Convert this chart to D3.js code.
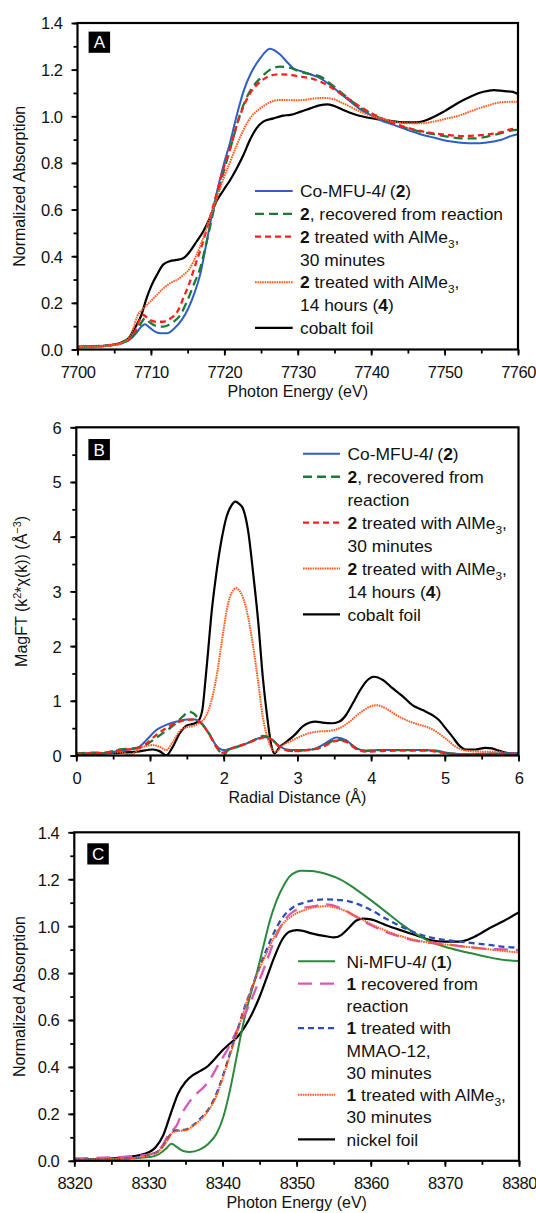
<!DOCTYPE html>
<html>
<head>
<meta charset="utf-8">
<script src="https://cdn.jsdelivr.net/npm/d3@7"></script>
<style>
html, body { margin: 0; padding: 0; background: #fff; }
svg { display: block; font-family: "Liberation Sans", Arial, Helvetica, sans-serif; }
</style>
</head>
<body>
<svg id="fig" width="536" height="1213"></svg>
<script>
// ---------- Panel A: Co K-edge XANES ----------
const aXTicks = [7700, 7710, 7720, 7730, 7740, 7750, 7760];
const aYTicks = [0, 0.2, 0.4, 0.6, 0.8, 1.0, 1.2, 1.4];
const aLabels = [
  "Co-MFU-4<i>l</i> (<b>2</b>)",
  "<b>2</b>, recovered from reaction",
  "<b>2</b> treated with AlMe<sub>3</sub>,|30 minutes",
  "<b>2</b> treated with AlMe<sub>3</sub>,|14 hours (<b>4</b>)",
  "cobalt foil"
];
const aCoMFU = [[7700,0.011],[7702,0.013],[7704,0.017],[7705,0.02],[7706,0.027],[7707,0.04],[7708,0.07],[7708.6,0.095],[7709.2,0.108],[7709.8,0.095],[7710.5,0.078],[7711.3,0.07],[7712.2,0.07],[7713.1,0.088],[7714.2,0.127],[7715.1,0.177],[7716.0,0.248],[7716.7,0.32],[7717.6,0.462],[7718.3,0.577],[7719.0,0.677],[7719.9,0.791],[7720.8,0.89],[7721.7,1.005],[7722.6,1.106],[7723.5,1.177],[7724.9,1.249],[7726.2,1.29],[7727.6,1.265],[7728.5,1.234],[7729.4,1.206],[7730.4,1.194],[7731.7,1.18],[7733.1,1.163],[7734.4,1.134],[7735.8,1.098],[7737.2,1.062],[7738.5,1.031],[7739.9,1.006],[7741.3,0.983],[7743.1,0.963],[7744.9,0.942],[7746.7,0.923],[7748.5,0.909],[7750.4,0.894],[7752.2,0.887],[7754,0.884],[7755.8,0.888],[7757.6,0.898],[7759,0.915],[7760,0.923]];
const aRecovered = [[7700,0.012],[7702,0.014],[7704,0.018],[7705,0.021],[7706,0.028],[7707,0.042],[7708,0.075],[7708.6,0.11],[7709.2,0.134],[7709.9,0.115],[7710.8,0.1],[7711.7,0.098],[7712.4,0.105],[7713.1,0.119],[7714,0.148],[7714.9,0.205],[7715.8,0.276],[7716.7,0.348],[7717.6,0.462],[7718.5,0.59],[7719.4,0.705],[7720.3,0.805],[7721.2,0.905],[7722.1,1.005],[7723,1.077],[7723.9,1.127],[7724.9,1.163],[7726.2,1.199],[7727.6,1.213],[7729,1.207],[7730.4,1.19],[7733.1,1.17],[7734.4,1.141],[7735.8,1.105],[7737.2,1.069],[7738.5,1.037],[7739.9,1.013],[7741.3,0.991],[7743.1,0.97],[7744.9,0.948],[7746.7,0.934],[7748.5,0.923],[7750.4,0.913],[7752.2,0.905],[7754,0.905],[7755.8,0.913],[7757.6,0.927],[7759,0.939],[7760,0.942]];
const aAlMe30 = [[7700,0.01],[7702,0.012],[7704,0.016],[7705,0.02],[7706,0.027],[7707,0.042],[7708,0.09],[7708.5,0.13],[7709,0.148],[7709.5,0.135],[7710,0.125],[7710.7,0.119],[7711.6,0.119],[7712.7,0.134],[7713.6,0.162],[7714.4,0.219],[7715.3,0.29],[7716.2,0.377],[7717.1,0.462],[7718,0.562],[7718.9,0.662],[7719.9,0.777],[7720.8,0.863],[7721.7,0.963],[7722.6,1.041],[7723.5,1.098],[7724.9,1.148],[7726.2,1.173],[7727.6,1.18],[7729,1.177],[7730.4,1.17],[7731.7,1.163],[7733.1,1.148],[7734.4,1.127],[7735.8,1.098],[7737.2,1.069],[7738.5,1.041],[7739.9,1.016],[7741.3,0.994],[7743.1,0.97],[7744.9,0.951],[7746.7,0.937],[7748.5,0.927],[7750.4,0.92],[7752.2,0.915],[7754,0.917],[7755.8,0.922],[7757.6,0.931],[7759,0.944],[7760,0.95]];
const aAlMe14h = [[7700,0.01],[7702,0.012],[7704,0.016],[7705,0.02],[7706,0.028],[7707,0.05],[7707.6,0.09],[7708.1,0.14],[7709,0.176],[7709.9,0.205],[7710.8,0.234],[7711.7,0.262],[7712.6,0.284],[7713.5,0.298],[7714.4,0.319],[7715.3,0.348],[7716.2,0.405],[7717.1,0.477],[7718,0.562],[7718.9,0.641],[7719.9,0.734],[7720.8,0.805],[7721.7,0.877],[7722.6,0.941],[7723.5,0.991],[7724.9,1.034],[7726.2,1.06],[7727.6,1.07],[7729,1.069],[7730.4,1.069],[7732.2,1.076],[7733.5,1.079],[7734.9,1.073],[7736.2,1.055],[7737.6,1.034],[7739,1.013],[7740.4,0.998],[7741.7,0.988],[7743.1,0.977],[7744.9,0.97],[7746.7,0.97],[7748.5,0.977],[7750.4,0.991],[7752.2,1.005],[7754,1.027],[7755.8,1.045],[7757.6,1.06],[7759,1.062],[7760,1.062]];
const aCoFoil = [[7700,0.01],[7702,0.013],[7704,0.017],[7705,0.021],[7706,0.03],[7707,0.05],[7707.6,0.08],[7708.3,0.12],[7708.7,0.148],[7709.4,0.219],[7710.1,0.276],[7710.8,0.319],[7711.7,0.365],[7712.6,0.379],[7713.5,0.384],[7714.4,0.391],[7715.3,0.42],[7716.2,0.462],[7717.1,0.505],[7718,0.562],[7718.9,0.634],[7719.9,0.684],[7720.8,0.727],[7721.7,0.777],[7722.6,0.834],[7723.5,0.899],[7724.4,0.949],[7725.3,0.977],[7726.7,0.991],[7728,1.003],[7729,1.006],[7730.4,1.02],[7731.7,1.034],[7733.1,1.048],[7734,1.051],[7734.9,1.045],[7736.2,1.027],[7737.6,1.01],[7739,0.998],[7740.8,0.988],[7742.6,0.98],[7744.4,0.974],[7746.2,0.974],[7748.1,0.991],[7749.9,1.02],[7751.7,1.055],[7753.5,1.084],[7755.3,1.105],[7756.7,1.112],[7758.1,1.108],[7759.3,1.105],[7760,1.095]];

// ---------- Panel B: Fourier transform magnitude ----------
const bXTicks = [0, 1, 2, 3, 4, 5, 6];
const bYTicks = [0, 1, 2, 3, 4, 5, 6];
const bLabels = [
  "Co-MFU-4<i>l</i> (<b>2</b>)",
  "<b>2</b>, recovered from|reaction",
  "<b>2</b> treated with AlMe<sub>3</sub>,|30 minutes",
  "<b>2</b> treated with AlMe<sub>3</sub>,|14 hours (<b>4</b>)",
  "cobalt foil"
];
const bCoMFU = [[0,0.03],[0.2,0.04],[0.37,0.04],[0.59,0.09],[0.82,0.13],[0.95,0.28],[1.09,0.47],[1.22,0.56],[1.36,0.62],[1.5,0.66],[1.61,0.66],[1.7,0.59],[1.81,0.38],[1.9,0.18],[2.0,0.1],[2.08,0.12],[2.17,0.16],[2.31,0.22],[2.44,0.3],[2.54,0.34],[2.65,0.3],[2.74,0.19],[2.85,0.11],[2.98,0.1],[3.12,0.1],[3.25,0.13],[3.39,0.23],[3.53,0.33],[3.66,0.28],[3.8,0.13],[3.93,0.09],[4.11,0.1],[4.43,0.1],[4.7,0.1],[4.88,0.09],[5.06,0.04],[5.33,0.02],[5.6,0.03],[5.87,0.04],[6,0.04]];
const bRecovered = [[0,0.04],[0.2,0.05],[0.37,0.05],[0.59,0.11],[0.82,0.14],[0.95,0.2],[1.09,0.33],[1.22,0.45],[1.36,0.6],[1.45,0.72],[1.53,0.8],[1.6,0.76],[1.68,0.62],[1.81,0.38],[1.9,0.16],[2.0,0.01],[2.06,0.1],[2.17,0.15],[2.31,0.22],[2.44,0.3],[2.54,0.36],[2.65,0.3],[2.74,0.18],[2.85,0.1],[2.98,0.08],[3.12,0.1],[3.25,0.12],[3.39,0.2],[3.53,0.29],[3.66,0.26],[3.8,0.13],[3.93,0.08],[4.11,0.1],[4.43,0.1],[4.7,0.1],[4.88,0.08],[5.06,0.04],[5.33,0.02],[5.6,0.03],[5.87,0.03],[6,0.04]];
const bAlMe30 = [[0,0.03],[0.2,0.04],[0.37,0.05],[0.59,0.1],[0.82,0.13],[0.95,0.22],[1.09,0.38],[1.22,0.5],[1.36,0.6],[1.5,0.65],[1.6,0.66],[1.7,0.58],[1.81,0.37],[1.9,0.16],[1.99,0.05],[2.06,0.1],[2.17,0.16],[2.31,0.22],[2.44,0.29],[2.56,0.33],[2.65,0.29],[2.74,0.18],[2.85,0.1],[2.98,0.08],[3.12,0.1],[3.25,0.12],[3.39,0.19],[3.53,0.27],[3.66,0.25],[3.8,0.12],[3.93,0.07],[4.11,0.08],[4.43,0.09],[4.7,0.09],[4.88,0.07],[5.06,0.03],[5.33,0.02],[5.6,0.03],[5.87,0.03],[6,0.03]];
const bAlMe14h = [[0,0.03],[0.37,0.04],[0.59,0.06],[0.73,0.02],[0.91,0.16],[1.04,0.19],[1.13,0.16],[1.22,0.1],[1.31,0.25],[1.4,0.44],[1.5,0.52],[1.59,0.54],[1.67,0.6],[1.74,0.68],[1.8,0.85],[1.86,1.15],[1.91,1.5],[1.96,1.95],[2.01,2.4],[2.06,2.78],[2.11,2.98],[2.17,3.06],[2.22,3.0],[2.27,2.86],[2.33,2.54],[2.4,1.99],[2.47,1.32],[2.53,0.71],[2.59,0.34],[2.65,0.13],[2.71,0.07],[2.8,0.19],[2.89,0.25],[3.03,0.34],[3.16,0.41],[3.3,0.44],[3.43,0.45],[3.57,0.5],[3.71,0.62],[3.84,0.77],[3.98,0.89],[4.07,0.92],[4.2,0.86],[4.34,0.74],[4.47,0.65],[4.61,0.58],[4.74,0.53],[4.88,0.44],[5.01,0.31],[5.15,0.16],[5.28,0.09],[5.46,0.07],[5.69,0.07],[5.87,0.04],[6,0.03]];
const bCoFoil = [[0,0.03],[0.37,0.04],[0.82,0.07],[1.04,0.11],[1.13,0.08],[1.22,0.0],[1.31,0.16],[1.4,0.4],[1.5,0.55],[1.59,0.58],[1.65,0.62],[1.71,0.83],[1.74,1.2],[1.79,1.93],[1.83,2.54],[1.9,3.33],[1.97,3.94],[2.04,4.37],[2.1,4.56],[2.16,4.64],[2.21,4.6],[2.26,4.52],[2.33,4.12],[2.4,3.33],[2.47,2.42],[2.53,1.44],[2.59,0.71],[2.65,0.16],[2.69,0.04],[2.76,0.16],[2.85,0.25],[2.98,0.4],[3.07,0.53],[3.16,0.6],[3.25,0.62],[3.34,0.6],[3.48,0.59],[3.57,0.62],[3.66,0.74],[3.75,0.95],[3.84,1.17],[3.93,1.35],[4.04,1.44],[4.16,1.38],[4.29,1.23],[4.43,1.08],[4.56,0.92],[4.7,0.83],[4.83,0.74],[4.92,0.65],[5.01,0.5],[5.1,0.35],[5.19,0.19],[5.28,0.11],[5.42,0.11],[5.55,0.14],[5.64,0.13],[5.73,0.09],[5.87,0.04],[6,0.03]];

// ---------- Panel C: Ni K-edge XANES ----------
const cXTicks = [8320, 8330, 8340, 8350, 8360, 8370, 8380];
const cYTicks = [0, 0.2, 0.4, 0.6, 0.8, 1.0, 1.2, 1.4];
const cLabels = [
  "Ni-MFU-4<i>l</i> (<b>1</b>)",
  "<b>1</b> recovered from|reaction",
  "<b>1</b> treated with|MMAO-12,|30 minutes",
  "<b>1</b> treated with AlMe<sub>3</sub>,|30 minutes",
  "nickel foil"
];
const cNiMFU = [[8320,0.005],[8324,0.007],[8327,0.01],[8329,0.013],[8330.2,0.016],[8331,0.022],[8331.5,0.03],[8332.4,0.052],[8333.1,0.073],[8333.8,0.059],[8334.7,0.042],[8335.6,0.038],[8336.9,0.048],[8338.1,0.073],[8339.2,0.116],[8340.1,0.187],[8341,0.3],[8341.9,0.443],[8342.8,0.585],[8343.7,0.699],[8344.6,0.798],[8345.5,0.912],[8346.4,1.025],[8347.3,1.11],[8348.2,1.17],[8349,1.21],[8350,1.232],[8350.6,1.236],[8352,1.235],[8354,1.222],[8356,1.197],[8358,1.157],[8360,1.111],[8362,1.062],[8364,1.012],[8366,0.969],[8368,0.934],[8370,0.912],[8372,0.895],[8374,0.881],[8376,0.867],[8378,0.856],[8380,0.851]];
const cRecovered = [[8320,0.01],[8323,0.012],[8326,0.016],[8328,0.02],[8330,0.026],[8331,0.038],[8331.8,0.06],[8332.5,0.1],[8333.2,0.128],[8333.8,0.15],[8334.5,0.2],[8335.5,0.25],[8336.5,0.286],[8337.5,0.315],[8338.5,0.357],[8339.5,0.414],[8340.5,0.464],[8341.5,0.528],[8342.5,0.592],[8343.5,0.656],[8344.5,0.734],[8345.5,0.812],[8346.5,0.898],[8347.5,0.976],[8348.5,1.032],[8349.5,1.061],[8350.5,1.075],[8352,1.083],[8354,1.093],[8356,1.076],[8358,1.04],[8360,1.005],[8362,0.976],[8364,0.955],[8366,0.938],[8368,0.929],[8370,0.924],[8372,0.915],[8374,0.908],[8376,0.902],[8378,0.901],[8380,0.898]];
const cMMAO = [[8320,0.005],[8324,0.007],[8327,0.01],[8329,0.015],[8330,0.024],[8331.5,0.045],[8332.5,0.087],[8333.3,0.126],[8334,0.13],[8335,0.133],[8336,0.151],[8337,0.18],[8338,0.215],[8339,0.272],[8340,0.357],[8341,0.457],[8342,0.556],[8343,0.656],[8344,0.741],[8345,0.826],[8346,0.905],[8347,0.976],[8348,1.032],[8349,1.068],[8350,1.09],[8351,1.1],[8352,1.109],[8354,1.114],[8356,1.111],[8358,1.097],[8360,1.069],[8362,1.033],[8364,1.0],[8366,0.972],[8368,0.952],[8370,0.941],[8372,0.934],[8374,0.927],[8376,0.92],[8378,0.912],[8380,0.908]];
const cAlMe30 = [[8320,0.005],[8324,0.007],[8327,0.01],[8329,0.015],[8330,0.024],[8331.5,0.045],[8332.5,0.085],[8333.3,0.122],[8334,0.127],[8335,0.13],[8336,0.148],[8337,0.175],[8338,0.21],[8339,0.265],[8340,0.35],[8341,0.45],[8342,0.55],[8343,0.65],[8344,0.74],[8345,0.82],[8346,0.89],[8347,0.955],[8348,1.005],[8349,1.035],[8350,1.055],[8351,1.068],[8352,1.078],[8354,1.085],[8356,1.072],[8358,1.043],[8360,1.009],[8362,0.981],[8364,0.958],[8366,0.941],[8368,0.929],[8370,0.922],[8372,0.915],[8374,0.908],[8376,0.901],[8378,0.894],[8380,0.888]];
const cNiFoil = [[8320,0.005],[8324,0.008],[8327,0.016],[8329.5,0.03],[8331,0.059],[8332,0.109],[8333,0.2],[8334,0.286],[8335,0.336],[8336,0.365],[8337,0.383],[8338,0.403],[8339,0.436],[8340,0.471],[8341,0.5],[8342,0.528],[8343,0.571],[8344,0.628],[8345,0.699],[8346,0.784],[8347,0.869],[8348,0.94],[8349,0.976],[8350,0.983],[8351,0.979],[8352,0.969],[8353,0.962],[8354,0.957],[8355,0.952],[8356,0.962],[8357,0.991],[8358,1.023],[8359,1.032],[8360,1.029],[8362,1.005],[8364,0.983],[8366,0.962],[8368,0.941],[8370,0.934],[8372,0.934],[8374,0.955],[8376,0.991],[8378,1.023],[8380,1.059]];

// ---------- line styles ----------
const STYLE = {
  blueSolid:   { stroke: "#2f5fc4", width: 2.0, dash: null },
  greenDash:   { stroke: "#1d7a34", width: 2.3, dash: "9,5" },
  redDash:     { stroke: "#ff1e1e", width: 2.3, dash: "6,4" },
  orangeDot:   { stroke: "#ff5a1e", width: 2.0, dash: "1.6,0.8" },
  black:       { stroke: "#000000", width: 2.2, dash: null },
  greenSolid:  { stroke: "#2a8a3c", width: 2.0, dash: null },
  pinkDash:    { stroke: "#d957b7", width: 2.3, dash: "14,8" },
  blueDash:    { stroke: "#2b4fb8", width: 2.3, dash: "6,4" }
};

const svg = d3.select("#fig");

// Renders simple <b>, <i>, <sub>, <sup> markup into tspans
function richText(textSel, markup, size) {
  const parts = markup.split(/(<\/?(?:b|i|sub|sup)>)/).filter(s => s !== "");
  let bold = false, ital = false, mode = 0, cur = 0;
  parts.forEach(p => {
    if (p === "<b>") bold = true;
    else if (p === "</b>") bold = false;
    else if (p === "<i>") ital = true;
    else if (p === "</i>") ital = false;
    else if (p === "<sub>") mode = 1;
    else if (p === "<sup>") mode = -1;
    else if (p === "</sub>" || p === "</sup>") mode = 0;
    else {
      const target = mode === 1 ? size * 0.28 : mode === -1 ? -size * 0.4 : 0;
      const t = textSel.append("tspan").text(p);
      if (target !== cur) { t.attr("dy", target - cur); cur = target; }
      if (bold) t.attr("font-weight", "bold");
      if (ital) t.attr("font-style", "italic");
      if (mode !== 0) t.attr("font-size", size * 0.68);
    }
  });
}

function drawPanel(cfg) {
  const x = d3.scaleLinear().domain(cfg.xDomain).range([cfg.left, cfg.right]);
  const y = d3.scaleLinear().domain(cfg.yDomain).range([cfg.bottom, cfg.top]);
  const g = svg.append("g");
  const clipId = "clip-" + cfg.key;
  svg.append("clipPath").attr("id", clipId).append("rect")
    .attr("x", cfg.left).attr("y", cfg.top - 2)
    .attr("width", cfg.right - cfg.left).attr("height", cfg.bottom - cfg.top + 2);

  // minor ticks
  const xMinor = d3.range(cfg.xDomain[0], cfg.xDomain[1] + 1e-9, cfg.xMinorStep);
  const yMinor = d3.range(cfg.yDomain[0], cfg.yDomain[1] + 1e-9, cfg.yMinorStep);
  g.append("g").attr("transform", `translate(0,${cfg.bottom})`)
    .call(d3.axisBottom(x).tickValues(xMinor).tickSize(4).tickFormat(""))
    .call(s => s.select(".domain").remove())
    .call(s => s.selectAll("line").attr("stroke-width", 1.8));
  g.append("g").attr("transform", `translate(${cfg.left},0)`)
    .call(d3.axisLeft(y).tickValues(yMinor).tickSize(4).tickFormat(""))
    .call(s => s.select(".domain").remove())
    .call(s => s.selectAll("line").attr("stroke-width", 1.8));

  // major ticks and labels
  g.append("g").attr("transform", `translate(0,${cfg.bottom})`)
    .call(d3.axisBottom(x).tickValues(cfg.xTicks).tickSize(6).tickFormat(cfg.xFormat))
    .call(s => s.select(".domain").remove())
    .call(s => s.selectAll("line").attr("stroke-width", 1.8))
    .call(s => s.selectAll("text").attr("y", 28).attr("dy", null)
      .attr("font-size", 16.5).attr("letter-spacing", -0.5)
      .attr("font-family", '"Liberation Sans", Arial, sans-serif').attr("fill", "#111"));
  g.append("g").attr("transform", `translate(${cfg.left},0)`)
    .call(d3.axisLeft(y).tickValues(cfg.yTicks).tickSize(6).tickFormat(cfg.yFormat))
    .call(s => s.select(".domain").remove())
    .call(s => s.selectAll("line").attr("stroke-width", 1.8))
    .call(s => s.selectAll("text").attr("x", -15).attr("dy", "0.36em")
      .attr("font-size", 16.5).attr("letter-spacing", -0.5)
      .attr("font-family", '"Liberation Sans", Arial, sans-serif').attr("fill", "#111"));

  // data lines
  const line = d3.line().x(d => x(d[0])).y(d => y(d[1])).curve(d3.curveMonotoneX);
  const lines = g.append("g").attr("clip-path", `url(#${clipId})`);
  cfg.drawOrder.forEach(i => {
    const s = cfg.series[i];
    const p = lines.append("path").datum(s.data)
      .attr("fill", "none").attr("stroke", s.style.stroke)
      .attr("stroke-width", s.style.width)
      .attr("stroke-linejoin", "round")
      .attr("d", line);
    if (s.style.dash) p.attr("stroke-dasharray", s.style.dash);
  });

  // frame
  g.append("rect").attr("x", cfg.left).attr("y", cfg.top)
    .attr("width", cfg.right - cfg.left).attr("height", cfg.bottom - cfg.top)
    .attr("fill", "none").attr("stroke", "#000").attr("stroke-width", 2.2);

  // panel letter
  g.append("rect").attr("x", cfg.tag.x).attr("y", cfg.tag.y)
    .attr("width", 21.5).attr("height", 21.2).attr("fill", "#000");
  g.append("text").attr("x", cfg.tag.x + 10.75).attr("y", cfg.tag.y + 16.8)
    .attr("text-anchor", "middle").attr("fill", "#fff").attr("font-size", 17)
    .text(cfg.tag.text);

  // axis titles
  g.append("text").attr("x", (cfg.left + cfg.right) / 2).attr("y", cfg.bottom + 47.5)
    .attr("text-anchor", "middle").attr("font-size", 16).attr("fill", "#111")
    .call(t => richText(t, cfg.xTitle, 16));
  g.append("text")
    .attr("transform", `translate(${cfg.yTitleX},${(cfg.top + cfg.bottom) / 2}) rotate(-90)`)
    .attr("text-anchor", "middle").attr("font-size", 16).attr("fill", "#111")
    .call(t => richText(t, cfg.yTitle, 16));

  // legend
  const lg = g.append("g");
  let row = 0;
  cfg.series.forEach(s => {
    const cy = cfg.legend.y + row * cfg.legend.pitch;
    const p = lg.append("line")
      .attr("x1", cfg.legend.x1).attr("x2", cfg.legend.x2)
      .attr("y1", cy).attr("y2", cy)
      .attr("stroke", s.style.stroke).attr("stroke-width", s.style.width);
    if (s.style.dash) p.attr("stroke-dasharray", s.style.dash);
    s.label.split("|").forEach((ln, k) => {
      const t = lg.append("text").attr("x", cfg.legend.tx)
        .attr("y", cy + k * cfg.legend.pitch + 6.2)
        .attr("font-size", 17.4).attr("fill", "#111");
      richText(t, ln, 17.4);
    });
    row += s.label.split("|").length;
  });
}

drawPanel({
  key: "A", left: 77.5, right: 518, top: 23, bottom: 349.5,
  xDomain: [7700, 7760], yDomain: [0, 1.4], xMinorStep: 5, yMinorStep: 0.1,
  xTicks: aXTicks, yTicks: aYTicks, xFormat: d3.format("d"), yFormat: d3.format(".1f"),
  xTitle: "Photon Energy (eV)", yTitle: "Normalized Absorption", yTitleX: 24.5,
  tag: { x: 88.6, y: 31.6, text: "A" },
  legend: { x1: 255, x2: 292.7, tx: 300, y: 191, pitch: 22.8 },
  series: [
    { data: aCoMFU, style: STYLE.blueSolid, label: aLabels[0] },
    { data: aRecovered, style: STYLE.greenDash, label: aLabels[1] },
    { data: aAlMe30, style: STYLE.redDash, label: aLabels[2] },
    { data: aAlMe14h, style: STYLE.orangeDot, label: aLabels[3] },
    { data: aCoFoil, style: STYLE.black, label: aLabels[4] }
  ],
  drawOrder: [4, 0, 1, 2, 3]
});

drawPanel({
  key: "B", left: 76.3, right: 518.5, top: 427.3, bottom: 755.5,
  xDomain: [0, 6], yDomain: [0, 6], xMinorStep: 0.5, yMinorStep: 0.5,
  xTicks: bXTicks, yTicks: bYTicks, xFormat: d3.format("d"), yFormat: d3.format("d"),
  xTitle: "Radial Distance (Å)", yTitle: "MagFT (k<sup>2</sup>*χ(k)) (Å<sup>−3</sup>)", yTitleX: 27,
  tag: { x: 88.4, y: 439, text: "B" },
  legend: { x1: 303, x2: 340, tx: 347.5, y: 453.8, pitch: 22.95 },
  series: [
    { data: bCoMFU, style: STYLE.blueSolid, label: bLabels[0] },
    { data: bRecovered, style: STYLE.greenDash, label: bLabels[1] },
    { data: bAlMe30, style: STYLE.redDash, label: bLabels[2] },
    { data: bAlMe14h, style: STYLE.orangeDot, label: bLabels[3] },
    { data: bCoFoil, style: STYLE.black, label: bLabels[4] }
  ],
  drawOrder: [4, 3, 0, 1, 2]
});

drawPanel({
  key: "C", left: 74.3, right: 519, top: 832.3, bottom: 1160.8,
  xDomain: [8320, 8380], yDomain: [0, 1.4], xMinorStep: 5, yMinorStep: 0.1,
  xTicks: cXTicks, yTicks: cYTicks, xFormat: d3.format("d"), yFormat: d3.format(".1f"),
  xTitle: "Photon Energy (eV)", yTitle: "Normalized Absorption", yTitleX: 24.5,
  tag: { x: 87.3, y: 843.3, text: "C" },
  legend: { x1: 298, x2: 335, tx: 346.6, y: 961.3, pitch: 22.25 },
  series: [
    { data: cNiMFU, style: STYLE.greenSolid, label: cLabels[0] },
    { data: cRecovered, style: STYLE.pinkDash, label: cLabels[1] },
    { data: cMMAO, style: STYLE.blueDash, label: cLabels[2] },
    { data: cAlMe30, style: STYLE.orangeDot, label: cLabels[3] },
    { data: cNiFoil, style: STYLE.black, label: cLabels[4] }
  ],
  drawOrder: [4, 0, 1, 2, 3]
});
</script>
</body>
</html>
